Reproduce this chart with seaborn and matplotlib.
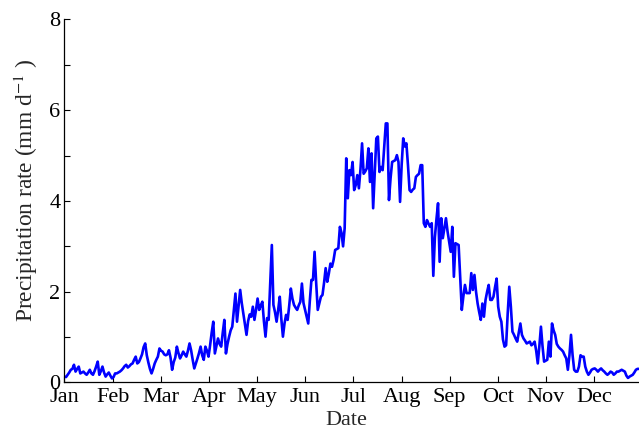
import numpy as np
import pandas as pd
import matplotlib
matplotlib.use("Agg")
import matplotlib.pyplot as plt
import seaborn as sns

# Daily mean precipitation rate (mm/day), day-of-year 0..364
precip = [
    0.13, 0.12, 0.17, 0.22, 0.28, 0.30, 0.39, 0.24, 0.30, 0.35,
    0.20, 0.22, 0.24, 0.20, 0.17, 0.22, 0.28, 0.20, 0.17, 0.25,
    0.35, 0.46, 0.17, 0.25, 0.35, 0.22, 0.13, 0.18, 0.22, 0.15,
    0.09, 0.12, 0.20, 0.20, 0.22, 0.24, 0.27, 0.31, 0.36, 0.39,
    0.33, 0.36, 0.40, 0.42, 0.50, 0.57, 0.42, 0.45, 0.53, 0.62,
    0.78, 0.86, 0.60, 0.44, 0.30, 0.20, 0.30, 0.42, 0.50, 0.57,
    0.75, 0.70, 0.68, 0.62, 0.60, 0.62, 0.71, 0.55, 0.28, 0.45,
    0.55, 0.79, 0.65, 0.53, 0.60, 0.68, 0.62, 0.57, 0.70, 0.86,
    0.71, 0.50, 0.31, 0.42, 0.53, 0.65, 0.79, 0.60, 0.50, 0.79,
    0.70, 0.57, 0.82, 1.10, 1.34, 0.64, 0.80, 0.97, 0.85, 0.79,
    1.10, 1.38, 0.64, 0.85, 1.01, 1.15, 1.23, 1.60, 1.96, 1.34,
    1.70, 2.04, 1.75, 1.52, 1.30, 1.05, 1.35, 1.50, 1.45, 1.67,
    1.38, 1.60, 1.85, 1.60, 1.70, 1.78, 1.35, 1.01, 1.42, 1.38,
    2.20, 3.03, 1.71, 1.55, 1.34, 1.60, 1.89, 1.40, 1.01, 1.30,
    1.49, 1.38, 1.70, 2.07, 1.85, 1.71, 1.65, 1.60, 1.70, 1.78,
    2.18, 1.75, 1.60, 1.45, 1.30, 1.80, 2.26, 2.26, 2.88, 2.20,
    1.60, 1.75, 1.89, 1.93, 2.20, 2.52, 2.22, 2.40, 2.62, 2.55,
    2.70, 2.92, 2.94, 2.96, 3.43, 3.30, 3.00, 3.40, 4.94, 4.06,
    4.68, 4.57, 4.86, 4.24, 4.35, 4.57, 4.28, 4.70, 5.27, 4.60,
    4.65, 4.72, 5.16, 4.42, 5.05, 3.84, 4.60, 5.38, 5.42, 4.64,
    4.75, 4.68, 5.20, 5.71, 5.71, 4.02, 4.50, 4.86, 4.88, 4.90,
    5.01, 4.86, 3.98, 4.79, 5.38, 5.20, 5.27, 4.79, 4.24, 4.20,
    4.25, 4.28, 4.53, 4.57, 4.60, 4.79, 4.79, 3.51, 3.43, 3.58,
    3.50, 3.43, 3.51, 2.35, 3.20, 3.60, 3.95, 2.66, 3.62, 3.18,
    3.40, 3.62, 3.33, 3.10, 2.88, 3.43, 2.33, 3.07, 3.05, 3.03,
    2.33, 1.60, 1.90, 2.15, 1.97, 1.97, 1.97, 2.41, 2.04, 2.37,
    2.00, 1.74, 1.55, 1.38, 1.74, 1.45, 1.82, 2.00, 2.15, 1.82,
    1.82, 1.89, 2.10, 2.29, 1.67, 1.45, 1.34, 0.95, 0.79, 0.82,
    1.52, 2.11, 1.67, 1.12, 1.05, 0.97, 0.90, 1.10, 1.30, 1.05,
    0.97, 0.92, 0.86, 0.88, 0.90, 0.82, 0.85, 0.90, 0.70, 0.42,
    0.80, 1.23, 0.80, 0.46, 0.48, 0.50, 0.90, 0.57, 1.30, 1.15,
    1.05, 0.85, 0.79, 0.75, 0.72, 0.68, 0.60, 0.53, 0.28, 0.60,
    1.05, 0.60, 0.28, 0.24, 0.24, 0.35, 0.60, 0.57, 0.57, 0.35,
    0.24, 0.17, 0.22, 0.28, 0.30, 0.31, 0.28, 0.24, 0.28, 0.31,
    0.27, 0.24, 0.20, 0.17, 0.20, 0.24, 0.22, 0.17, 0.20, 0.24,
    0.24, 0.26, 0.28, 0.26, 0.24, 0.15, 0.10, 0.13, 0.15, 0.17,
    0.22, 0.28, 0.30, 0.30, 0.30,
]
days = np.arange(len(precip))

months = ["Jan", "Feb", "Mar", "Apr", "May", "Jun",
          "Jul", "Aug", "Sep", "Oct", "Nov", "Dec"]
month_ticks = np.arange(12) * 365 / 12

df = pd.DataFrame({"day": days, "precip": precip})

sns.set_style("ticks")
plt.rcParams["font.family"] = ["Liberation Serif", "DejaVu Serif"]
plt.rcParams["mathtext.fontset"] = "stix"

fig = plt.figure(figsize=(6.39, 4.32), dpi=100)
ax = fig.add_axes([0.1009, 0.1146, 0.9017, 0.8403])

sns.lineplot(data=df, x="day", y="precip", ax=ax, color="#0000FF",
             linewidth=1.9)

ax.set_xlim(0, 364)
ax.set_ylim(0, 8)
ax.set_xticks(month_ticks)
ax.set_xticklabels(months)
ax.set_yticks(np.arange(0, 9, 1))
ax.set_yticklabels([str(v) if v % 2 == 0 else "" for v in range(9)])

fs = 16
ax.tick_params(axis="both", direction="in", length=4, width=0.8,
               labelsize=fs, colors="black", pad=3)
ax.tick_params(axis="x", pad=4)
for side in ["top", "right"]:
    ax.spines[side].set_visible(False)
for side in ["left", "bottom"]:
    ax.spines[side].set_linewidth(0.9)
    ax.spines[side].set_color("black")

ax.set_xlabel("Date", fontsize=fs)
ax.xaxis.set_label_coords(0.49, -0.078)
ax.set_ylabel(r"Precipitation rate (mm d$^{-1}$ )", fontsize=16.8)
ax.yaxis.set_label_coords(-0.043, 0.53)

fig.savefig("out.png", dpi=100)
